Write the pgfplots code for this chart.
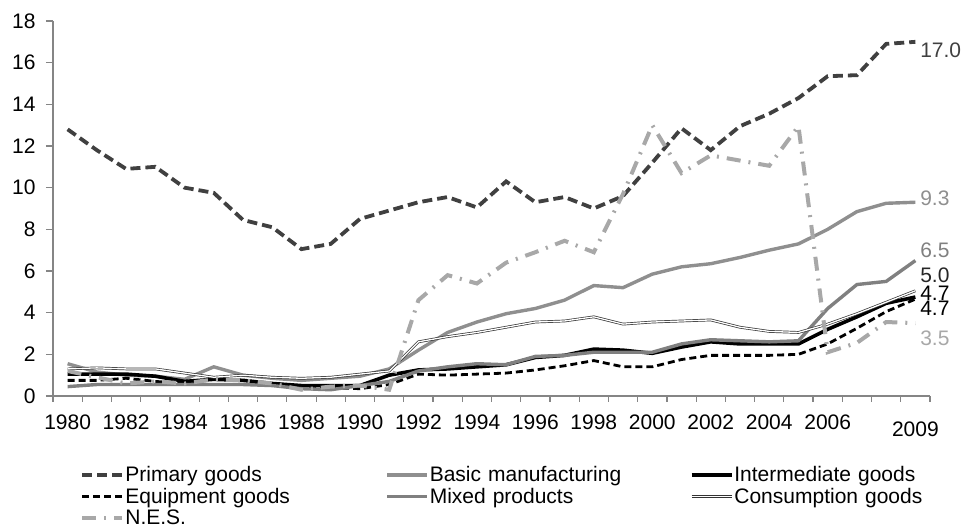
\documentclass[border=0pt]{standalone}
\usepackage{fontspec}
\setmainfont{Liberation Sans}
\usepackage{pgfplots}
\pgfplotsset{compat=1.18}
\definecolor{cPrim}{HTML}{404040}
\definecolor{cBasic}{HTML}{8F8F8F}
\definecolor{cMixed}{HTML}{808080}
\definecolor{cNES}{HTML}{A8A8A8}
\definecolor{cAxis}{HTML}{858585}
\begin{document}
\begin{tikzpicture}
\path[use as bounding box] (0,0) rectangle (964pt,529pt);
\begin{axis}[
  at={(53pt,133pt)}, anchor=south west,
  scale only axis, width=877pt, height=375pt,
  xmin=-0.5, xmax=29.5, ymin=0, ymax=18,
  clip=false,
  axis x line*=bottom, axis y line*=left,
  axis line style={draw=cAxis, line width=1.2pt},
  tick align=outside,
  xtick={0,2,4,6,8,10,12,14,16,18,20,22,24,26},
  xticklabels={1980,1982,1984,1986,1988,1990,1992,1994,1996,1998,2000,2002,2004,2006},
  extra x ticks={29},
  extra x tick labels={2009},
  extra x tick style={major x tick style={draw=none}, x tick label style={yshift=-7pt}},
  major x tick style={draw=none},
  minor xtick={-0.5,0.5,...,29.5},
  minor x tick style={draw=cAxis, line width=1.2pt},
  minor tick length=6pt,
  major tick length=7pt,
  ytick={0,2,...,18},
  major y tick style={draw=cAxis, line width=1.2pt},
  tick label style={font=\fontsize{21}{25}\selectfont, text=black},
  x tick label style={yshift=-8pt},
  y tick label style={xshift=-7pt},
  /pgf/number format/assume math mode=true,
  legend columns=3,
  legend cell align=left,
  legend style={at={(0.031,-0.185)}, anchor=north west, draw=none, fill=none,
    inner sep=0pt, font=\fontsize{21}{25}\selectfont, row sep=3pt,
    nodes={inner xsep=1pt, inner ysep=1pt, text width=259pt}},
  legend image code/.code={\draw[#1] (0pt,0pt) -- (40pt,0pt);},
]
% Primary goods
\addplot[cPrim, line width=3.8pt, dash pattern=on 10pt off 5pt] coordinates {
(0,12.8)(1,11.8)(2,10.9)(3,11.0)(4,10.0)(5,9.75)(6,8.45)(7,8.1)(8,7.05)(9,7.3)
(10,8.5)(11,8.9)(12,9.3)(13,9.55)(14,9.05)(15,10.3)(16,9.3)(17,9.55)(18,9.0)(19,9.6)
(20,11.2)(21,12.85)(22,11.8)(23,12.95)(24,13.55)(25,14.3)(26,15.35)(27,15.4)(28,16.9)(29,17.0)};
\addlegendentry{Primary goods}
% Basic manufacturing
\addplot[cBasic, line width=3.4pt] coordinates {
(0,1.55)(1,1.15)(2,1.0)(3,0.95)(4,0.8)(5,1.4)(6,1.0)(7,0.85)(8,0.75)(9,0.85)
(10,0.95)(11,1.3)(12,2.2)(13,3.05)(14,3.55)(15,3.95)(16,4.2)(17,4.6)(18,5.3)(19,5.2)
(20,5.85)(21,6.2)(22,6.35)(23,6.65)(24,7.0)(25,7.3)(26,8.0)(27,8.85)(28,9.25)(29,9.3)};
\addlegendentry{Basic manufacturing}
% Intermediate goods
\addplot[black, line width=3.6pt] coordinates {
(0,1.05)(1,1.05)(2,1.05)(3,0.95)(4,0.7)(5,0.8)(6,0.75)(7,0.6)(8,0.5)(9,0.5)
(10,0.5)(11,1.0)(12,1.25)(13,1.3)(14,1.4)(15,1.5)(16,1.85)(17,1.95)(18,2.25)(19,2.2)
(20,2.05)(21,2.35)(22,2.6)(23,2.5)(24,2.5)(25,2.5)(26,3.2)(27,3.8)(28,4.45)(29,4.75)};
\addlegendentry{Intermediate goods}
% Equipment goods
\addplot[black, line width=2.8pt, dash pattern=on 7pt off 4pt] coordinates {
(0,0.75)(1,0.75)(2,0.85)(3,0.7)(4,0.6)(5,0.55)(6,0.55)(7,0.6)(8,0.45)(9,0.4)
(10,0.35)(11,0.55)(12,1.05)(13,1.0)(14,1.05)(15,1.1)(16,1.25)(17,1.45)(18,1.7)(19,1.4)
(20,1.4)(21,1.75)(22,1.95)(23,1.95)(24,1.95)(25,2.0)(26,2.5)(27,3.25)(28,4.05)(29,4.65)};
\addlegendentry{Equipment goods}
% Mixed products
\addplot[cMixed, line width=3.4pt] coordinates {
(0,0.45)(1,0.55)(2,0.55)(3,0.55)(4,0.55)(5,0.55)(6,0.55)(7,0.5)(8,0.35)(9,0.3)
(10,0.5)(11,0.7)(12,1.2)(13,1.4)(14,1.55)(15,1.5)(16,1.9)(17,1.95)(18,2.1)(19,2.1)
(20,2.1)(21,2.5)(22,2.7)(23,2.65)(24,2.6)(25,2.65)(26,4.2)(27,5.35)(28,5.5)(29,6.5)};
\addlegendentry{Mixed products}
% Consumption goods
\addplot[black!80, line width=0.7pt, double=white, double distance=1.3pt] coordinates {
(0,1.3)(1,1.35)(2,1.3)(3,1.3)(4,1.1)(5,0.9)(6,1.0)(7,0.9)(8,0.85)(9,0.9)
(10,1.05)(11,1.2)(12,2.6)(13,2.85)(14,3.05)(15,3.3)(16,3.55)(17,3.6)(18,3.8)(19,3.45)
(20,3.55)(21,3.6)(22,3.65)(23,3.3)(24,3.1)(25,3.05)(26,3.45)(27,3.95)(28,4.5)(29,5.05)};
\addlegendentry{Consumption goods}
% N.E.S.
\addplot[cNES, line width=4pt, dash pattern=on 14pt off 8pt on 2pt off 8pt] coordinates {
(0,1.2)(1,0.9)(2,0.6)(3,0.7)(4,0.6)(5,0.8)(6,0.75)(7,0.6)(8,0.3)(9,0.45)
(10,0.5)(11,0.3)(12,4.6)(13,5.8)(14,5.4)(15,6.4)(16,6.9)(17,7.45)(18,6.9)(19,9.7)
(20,13.0)(21,10.7)(22,11.55)(23,11.3)(24,11.05)(25,12.95)(26,2.1)(27,2.55)(28,3.55)(29,3.5)};
\addlegendentry{N.E.S.}
% end labels
\begin{scope}[every node/.style={anchor=west, inner sep=0pt, font=\fontsize{21}{25}\selectfont}]
\node[text=cPrim] at (axis cs:29.16,16.6) {17.0};
\node[text=cBasic] at (axis cs:29.16,9.5) {9.3};
\node[text=cMixed] at (axis cs:29.16,7.0) {6.5};
\node[text=black!85] at (axis cs:29.16,5.8) {5.0};
\node[text=black] at (axis cs:29.16,4.95) {4.7};
\node[text=black] at (axis cs:29.16,4.22) {4.7};
\node[text=cNES] at (axis cs:29.16,2.78) {3.5};
\end{scope}
\end{axis}
\end{tikzpicture}
\end{document}
